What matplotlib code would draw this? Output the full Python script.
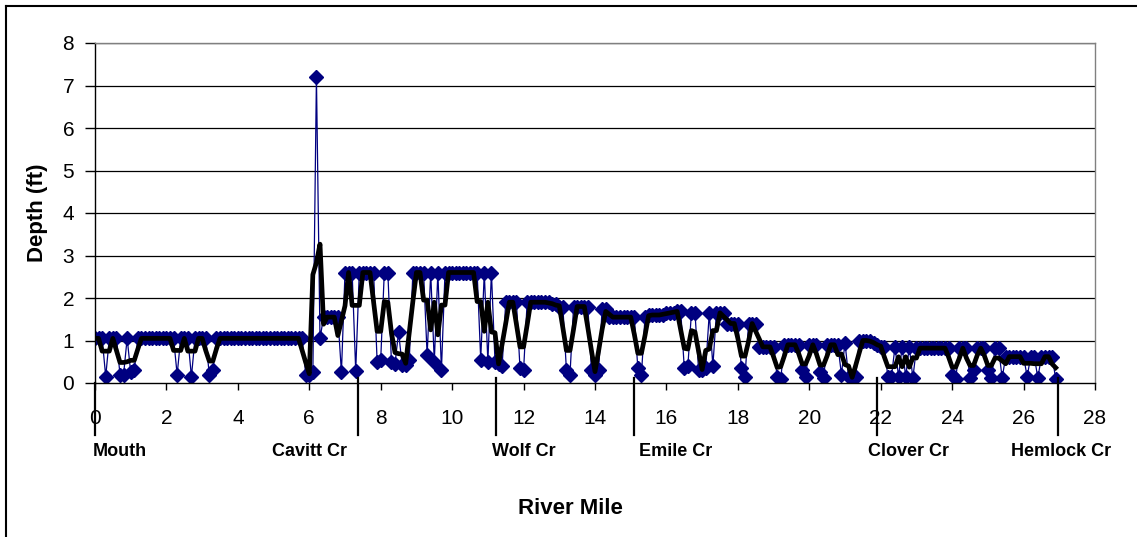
import numpy as np
import pandas as pd
import matplotlib as mpl
mpl.use('Agg')
from matplotlib import pyplot as plt
from matplotlib.lines import Line2D

mpl.rcParams.update({
    'font.family': ['Liberation Sans', 'DejaVu Sans'],
    'font.size': 15,
})

# survey stations every 0.1 river mile, depths (ft), one row per mile
depth_by_mile = [
    [1.05, 1.05, 1.05, 0.15, 1.05, 1.05, 1.05, 0.2, 0.2, 1.05],    # 0
    [0.25, 0.3, 1.05, 1.05, 1.05, 1.05, 1.05, 1.05, 1.05, 1.05],   # 1
    [1.05, 1.05, 1.05, 0.2, 1.05, 1.05, 1.05, 0.15, 1.05, 1.05],   # 2
    [1.05, 1.05, 0.2, 0.3, 1.05, 1.05, 1.05, 1.05, 1.05, 1.05],    # 3
    [1.05, 1.05, 1.05, 1.05, 1.05, 1.05, 1.05, 1.05, 1.05, 1.05],  # 4
    [1.05, 1.05, 1.05, 1.05, 1.05, 1.05, 1.05, 1.05, 1.05, 0.2],   # 5
    [0.2, 0.25, 7.2, 1.05, 1.55, 1.55, 1.55, 1.55, 1.55, 0.25],    # 6
    [2.6, 2.6, 2.6, 0.28, 2.6, 2.6, 2.6, 2.6, 2.6, 0.5],           # 7
    [0.55, 2.6, 2.6, 0.5, 0.45, 1.2, 0.42, 0.42, 0.55, 2.6],       # 8
    [2.6, 2.6, 2.6, 0.65, 2.6, 0.5, 2.6, 0.3, 2.6, 2.6],           # 9
    [2.6, 2.6, 2.6, 2.6, 2.6, 2.6, 2.6, 2.6, 0.55, 2.6],           # 10
    [0.5, 2.6, 0.5, 0.45, 0.4, 1.9, 1.9, 1.9, 1.9, 0.35],          # 11
    [0.3, 1.9, 1.9, 1.9, 1.9, 1.9, 1.9, 1.9, 1.85, 1.85],          # 12
    [1.8, 1.8, 0.3, 0.2, 1.8, 1.8, 1.8, 1.8, 1.8, 0.3],            # 13
    [0.2, 0.3, 1.75, 1.75, 1.55, 1.55, 1.55, 1.55, 1.55, 1.55],    # 14
    [1.55, 1.55, 0.35, 0.2, 1.55, 1.6, 1.6, 1.6, 1.6, 1.6],        # 15
    [1.65, 1.65, 1.65, 1.7, 1.7, 0.35, 0.4, 1.65, 1.65, 0.3],      # 16
    [0.3, 0.35, 1.65, 0.4, 1.65, 1.65, 1.65, 1.4, 1.4, 1.4],       # 17
    [1.4, 0.35, 0.15, 1.4, 1.4, 1.4, 0.85, 0.85, 0.85, 0.85],      # 18
    [0.85, 0.15, 0.1, 0.9, 0.9, 0.9, 0.9, 0.9, 0.3, 0.15],         # 19
    [0.9, 0.9, 0.9, 0.25, 0.12, 0.9, 0.9, 0.9, 0.9, 0.2],          # 20
    [0.95, 0.15, 0.1, 0.15, 1.0, 1.0, 1.0, 1.0, 0.95, 0.9],        # 21
    [0.85, 0.85, 0.15, 0.15, 0.85, 0.15, 0.85, 0.15, 0.85, 0.12],  # 22
    [0.82, 0.82, 0.82, 0.82, 0.82, 0.82, 0.82, 0.82, 0.82, 0.82],  # 23
    [0.2, 0.1, 0.82, 0.82, 0.82, 0.12, 0.3, 0.82, 0.82, 0.82],     # 24
    [0.3, 0.12, 0.82, 0.82, 0.12, 0.62, 0.62, 0.62, 0.62, 0.62],   # 25
    [0.62, 0.15, 0.62, 0.62, 0.12, 0.62, 0.62, 0.62, 0.62, 0.1],   # 26
]
depth = np.concatenate(depth_by_mile)
river_mile = np.round(np.arange(len(depth)) * 0.1, 1)

# tributary confluences
tribs = ['Mouth', 'Cavitt Cr', 'Wolf Cr', 'Emile Cr', 'Clover Cr', 'Hemlock Cr']
trib_mile = [0.0, 7.35, 11.23, 15.1, 21.9, 26.95]
label_mile = [0.7, 6.02, 12.0, 16.27, 22.77, 27.05]

x_ticks = np.arange(0, 29, 2)
y_ticks = np.arange(0, 9, 1)

W, H = 1137, 537
fig = plt.figure(figsize=(W / 100, H / 100), dpi=100)
ax = fig.add_axes([95 / W, 1 - 383 / H, 1000 / W, 340 / H])

# moving average trendline (period 3)
avg = pd.Series(depth).rolling(3, center=True, min_periods=2).mean()

ax.plot(river_mile, depth, color='#000080', linewidth=0.9, marker='D',
        markersize=7.5, markerfacecolor='#000080', markeredgecolor='#000080',
        zorder=3)
ax.plot(river_mile, avg, color='black', linewidth=3.4, zorder=4)

ax.set_xlim(0, 28)
ax.set_ylim(0, 8)
ax.set_xticks(x_ticks)
ax.set_yticks(y_ticks)
ax.tick_params(axis='x', direction='out', length=5, width=1, pad=14, labelsize=15)
ax.tick_params(axis='y', direction='out', length=7, width=1, pad=8, labelsize=15)

for v in y_ticks[1:]:
    ax.axhline(v, color='black', linewidth=0.9, zorder=1)

ax.spines['left'].set_color('black')
ax.spines['bottom'].set_color('black')
ax.spines['top'].set_color('#808080')
ax.spines['right'].set_color('#808080')
for s in ax.spines.values():
    s.set_linewidth(1)
    s.set_zorder(5)

# tributary markers below the axis
trans = ax.get_xaxis_transform()
for name, tm, lm in zip(tribs, trib_mile, label_mile):
    top = 0.0 if tm == 0 else 0.015
    ax.plot([tm, tm], [top, -0.153], transform=trans, color='black',
            linewidth=1.6, clip_on=False, zorder=6)
    ax.text(lm, -0.2, name, transform=trans, ha='center', va='center',
            fontsize=13, fontweight='bold')

fig.text(570 / W, 1 - 509 / H, 'River Mile', ha='center', va='center',
         fontsize=16, fontweight='bold')
fig.text(38 / W, 1 - 213 / H, 'Depth (ft)', ha='center', va='center',
         rotation=90, fontsize=16, fontweight='bold')

# outer chart border (left and top edges visible)
fig.add_artist(Line2D([6 / W, 6 / W], [0, 1 - 6 / H], color='black', linewidth=1.5))
fig.add_artist(Line2D([6 / W, 1], [1 - 6 / H, 1 - 6 / H], color='black', linewidth=1.5))

fig.savefig('out.png', dpi=100)
